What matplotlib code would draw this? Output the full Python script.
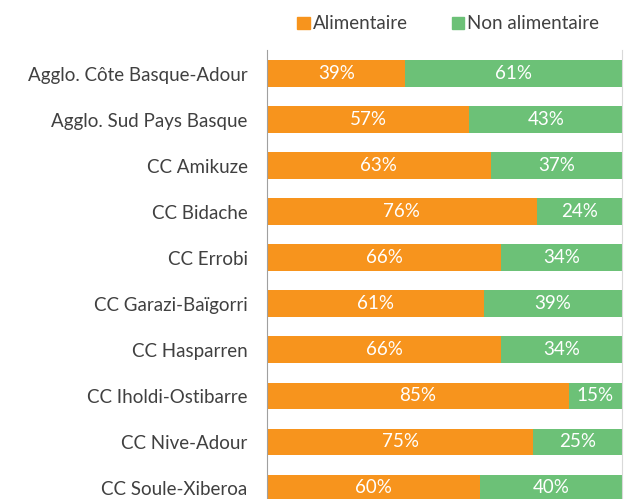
import numpy as np
import matplotlib
matplotlib.use("Agg")
from matplotlib import pyplot as plt
from matplotlib.patches import Patch

categories = ['Agglo. Côte Basque-Adour', 'Agglo. Sud Pays Basque', 'CC Amikuze',
              'CC Bidache', 'CC Errobi', 'CC Garazi-Baïgorri', 'CC Hasparren',
              'CC Iholdi-Ostibarre', 'CC Nive-Adour', 'CC Soule-Xiberoa']
alimentaire = [39, 57, 63, 76, 66, 61, 66, 85, 75, 60]
non_alimentaire = [61, 43, 37, 24, 34, 39, 34, 15, 25, 40]

orange = '#F7941D'
green = '#6CC177'
grey = '#404040'

plt.rcParams['font.family'] = ['Lato', 'DejaVu Sans']

fig = plt.figure(figsize=(6.29, 4.99), dpi=100)
ax = fig.add_axes([0.4245, -0.024, 0.5645, 0.9228])

y = np.arange(len(categories))
h = 0.58
ax.barh(y, alimentaire, height=h, color=orange)
ax.barh(y, non_alimentaire, left=alimentaire, height=h, color=green)

for i in range(len(categories)):
    a = alimentaire[i]
    n = non_alimentaire[i]
    ax.text(a / 2, i, f'{a}%', ha='center', va='center', color='white', fontsize=13.5)
    ax.text(a + n / 2, i, f'{n}%', ha='center', va='center', color='white', fontsize=13.5)

ax.set_xlim(0, 100)
ax.set_ylim(len(categories) - 0.5, -0.5)
ax.set_yticks(y)
ax.set_yticklabels(categories, fontsize=13.5, color=grey)
ax.tick_params(axis='y', length=0, pad=14)
ax.set_xticks([])
for s in ['top', 'bottom']:
    ax.spines[s].set_visible(False)
ax.spines['left'].set_color('#A0A0A0')
ax.spines['right'].set_color('#D9D9D9')

handles = [Patch(color=orange, label='Alimentaire'),
           Patch(color=green, label='Non alimentaire')]
fig.legend(handles=handles, loc='center', bbox_to_anchor=(0.713, 0.952), ncol=2,
           frameon=False, fontsize=13.5, handlelength=0.65, handleheight=0.65,
           handletextpad=0.2, columnspacing=2.3, labelcolor=grey)

fig.savefig('out.png', dpi=100)
